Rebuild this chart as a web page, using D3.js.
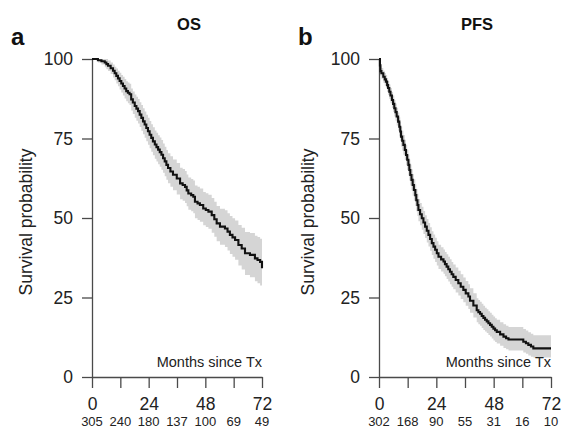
<!DOCTYPE html>
<html>
<head>
<meta charset="utf-8">
<script src="https://cdn.jsdelivr.net/npm/d3@7"></script>
<style>
  body { margin: 0; background: #fff; }
  text { font-family: "Liberation Sans", Arial, sans-serif; }
</style>
</head>
<body>
<div id="chart"></div>
<script>
// tick values and numbers at risk
const months = [0, 12, 24, 36, 48, 60, 72];
const monthLabels = [0, 24, 48, 72];
const survTicks = [0, 25, 50, 75, 100];
const osAtRisk = [305, 240, 180, 137, 100, 69, 49];
const pfsAtRisk = [302, 168, 90, 55, 31, 16, 10];

// OS curve and its band
const osTime  = [0, 2.5, 4.0, 5.4, 6.1, 6.8, 7.9, 8.9, 9.6, 10.3, 11.0, 11.7, 12.4, 13.1, 13.8, 14.5, 15.2, 15.9, 16.6, 17.3, 18.1, 18.8, 19.5, 20.2, 20.9, 21.6, 22.3, 23.0, 23.7, 24.4, 25.1, 25.8, 26.6, 27.3, 28.0, 28.7, 29.4, 30.1, 30.8, 31.5, 32.2, 33.2, 34.3, 35.9, 37.3, 38.4, 39.4, 40.1, 40.8, 42.0, 42.9, 43.6, 44.7, 45.7, 47.1, 48.2, 49.3, 50.7, 51.8, 52.8, 54.2, 56.3, 57.4, 58.4, 59.5, 60.6, 62.0, 63.4, 64.8, 66.9, 69.0, 70.1, 71.2, 72.0];
const osSurv  = [100, 99.6, 99.3, 98.9, 98.4, 97.9, 97.1, 96.3, 95.5, 94.7, 93.9, 93.1, 92.3, 91.5, 90.7, 89.9, 89.4, 88.9, 87.3, 86.3, 85.2, 84.4, 83.6, 82.5, 81.5, 80.4, 79.4, 78.3, 77.3, 76.2, 75.2, 74.1, 73.1, 72.3, 71.5, 70.7, 69.9, 68.8, 67.8, 66.7, 65.7, 64.6, 63.6, 62.4, 60.9, 60.4, 59.8, 58.7, 57.7, 57.2, 56.7, 55.1, 54.6, 54.1, 53.0, 52.5, 52.0, 50.9, 49.6, 48.3, 47.3, 46.7, 45.7, 44.7, 43.9, 43.1, 41.5, 40.4, 38.9, 38.4, 37.3, 36.8, 36.2, 34.2];
const osUpper = [100, 100, 100, 100, 100, 99.5, 98.9, 98.3, 97.6, 97.0, 96.3, 95.7, 95.0, 94.4, 93.7, 93.0, 92.6, 92.2, 90.7, 89.8, 88.8, 88.1, 87.4, 86.4, 85.5, 84.5, 83.5, 82.5, 81.5, 80.5, 79.5, 78.5, 77.5, 76.8, 76.0, 75.3, 74.5, 73.4, 72.4, 71.4, 70.4, 69.4, 68.4, 67.3, 65.8, 65.4, 64.8, 63.7, 62.7, 62.3, 61.8, 60.2, 59.8, 59.3, 58.2, 57.8, 57.3, 56.3, 55.1, 53.8, 52.9, 52.4, 51.5, 50.6, 49.9, 49.2, 47.8, 46.9, 45.6, 45.3, 44.4, 44.0, 43.5, 41.5];
const osLower = [100, 98.9, 98.3, 97.4, 96.8, 96.2, 95.3, 94.2, 93.3, 92.3, 91.4, 90.4, 89.5, 88.5, 87.6, 86.7, 86.1, 85.5, 83.8, 82.7, 81.5, 80.6, 79.7, 78.6, 77.4, 76.3, 75.2, 74.1, 73.0, 71.9, 70.8, 69.7, 68.6, 67.8, 66.9, 66.1, 65.2, 64.2, 63.1, 62.0, 60.9, 59.8, 58.7, 57.4, 55.9, 55.4, 54.7, 53.7, 52.6, 52.1, 51.5, 49.9, 49.4, 48.8, 47.7, 47.2, 46.6, 45.4, 44.1, 42.7, 41.6, 40.9, 39.8, 38.7, 37.8, 36.9, 35.1, 33.8, 32.1, 31.4, 30.1, 29.5, 28.8, 27.2];

// PFS curve and its band
const pfsTime  = [0, 0.4, 0.6, 1.0, 1.8, 2.4, 2.9, 3.4, 3.8, 4.3, 4.8, 5.4, 5.9, 6.4, 6.9, 7.4, 8.0, 8.5, 8.9, 9.2, 9.7, 10.2, 10.8, 11.3, 11.8, 12.3, 12.7, 13.1, 13.6, 14.1, 14.6, 15.2, 15.6, 16.1, 16.5, 17.2, 17.9, 18.6, 19.3, 20.0, 20.7, 21.4, 22.1, 22.8, 23.5, 24.2, 24.9, 26.0, 27.0, 27.6, 28.3, 29.0, 29.7, 30.4, 31.1, 32.1, 33.2, 34.2, 35.3, 36.3, 37.4, 38.1, 39.5, 40.9, 41.6, 42.3, 43.0, 43.7, 44.4, 45.1, 45.8, 46.5, 47.2, 47.9, 48.6, 49.3, 50.7, 52.1, 53.2, 54.2, 60.4, 61.5, 62.5, 63.6, 64.6, 72.0];
const pfsSurv  = [100, 98.0, 96.2, 95.5, 94.4, 93.6, 92.9, 91.8, 90.9, 89.7, 88.5, 87.1, 85.9, 84.5, 83.3, 81.9, 80.3, 78.7, 77.2, 75.6, 74.3, 73.0, 71.4, 69.8, 68.3, 66.7, 65.1, 63.5, 62.0, 60.4, 58.8, 57.2, 55.6, 54.1, 52.5, 51.2, 49.9, 48.6, 47.3, 46.0, 44.7, 43.4, 42.1, 41.0, 40.0, 38.9, 37.8, 37.0, 36.3, 35.5, 34.7, 33.9, 33.1, 32.3, 31.5, 30.5, 29.5, 28.4, 27.4, 26.3, 25.3, 24.0, 22.5, 21.0, 20.4, 19.9, 19.2, 18.6, 18.0, 17.5, 16.9, 16.4, 15.8, 15.2, 14.7, 14.2, 13.4, 12.7, 12.2, 11.8, 11.1, 10.6, 10.1, 9.6, 9.0, 9.0];
const pfsUpper = [100, 99.0, 97.7, 97.2, 96.3, 95.6, 95.0, 94.0, 93.1, 92.0, 90.9, 89.6, 88.5, 87.1, 86.0, 84.7, 83.2, 81.7, 80.2, 78.7, 77.4, 76.1, 74.6, 73.0, 71.5, 70.0, 68.4, 66.8, 65.3, 63.8, 62.2, 60.6, 59.1, 57.6, 56.0, 54.7, 53.5, 52.2, 50.9, 49.7, 48.4, 47.1, 45.8, 44.8, 43.8, 42.7, 41.6, 40.8, 40.1, 39.3, 38.6, 37.8, 37.0, 36.2, 35.4, 34.4, 33.4, 32.3, 31.3, 30.2, 29.2, 27.9, 26.3, 24.8, 24.2, 23.7, 23.0, 22.4, 21.8, 21.3, 20.7, 20.2, 19.6, 19.0, 18.5, 18.0, 17.2, 16.6, 16.1, 15.7, 15.1, 14.6, 14.1, 13.6, 13.1, 13.1];
const pfsLower = [100, 97.0, 94.7, 93.8, 92.5, 91.6, 90.8, 89.6, 88.7, 87.4, 86.1, 84.6, 83.3, 81.9, 80.6, 79.1, 77.4, 75.7, 74.2, 72.5, 71.2, 69.9, 68.2, 66.6, 65.1, 63.4, 61.8, 60.2, 58.7, 57.0, 55.4, 53.8, 52.1, 50.6, 49.0, 47.7, 46.3, 45.0, 43.7, 42.3, 41.0, 39.7, 38.4, 37.2, 36.2, 35.1, 34.0, 33.2, 32.5, 31.7, 30.8, 30.0, 29.2, 28.4, 27.6, 26.6, 25.6, 24.5, 23.5, 22.4, 21.4, 20.2, 18.7, 17.2, 16.6, 16.1, 15.4, 14.8, 14.3, 13.8, 13.2, 12.7, 12.1, 11.5, 11.0, 10.5, 9.8, 9.1, 8.7, 8.3, 7.7, 7.3, 6.8, 6.4, 6.1, 6.1];

const W = 561, H = 438;
const svg = d3.select("#chart").append("svg")
    .attr("width", W)
    .attr("height", H);

const y = d3.scaleLinear().domain([0, 100]).range([377, 59]);

const panels = [
  {letter: "a", title: "OS", left: 92, right: 262, letterX: 11, labelX: 32,
   time: osTime, surv: osSurv, lo: osLower, hi: osUpper, risk: osAtRisk},
  {letter: "b", title: "PFS", left: 379, right: 551, letterX: 298, labelX: 314,
   time: pfsTime, surv: pfsSurv, lo: pfsLower, hi: pfsUpper, risk: pfsAtRisk}
];

panels.forEach(p => {
  const x = d3.scaleLinear().domain([0, 72]).range([p.left, p.right]);
  const g = svg.append("g");
  const pts = p.time.map((t, i) => ({t, s: p.surv[i], lo: p.lo[i], hi: p.hi[i]}));

  // confidence band
  g.append("path")
      .datum(pts)
      .attr("fill", "#d5d5d5")
      .attr("d", d3.area()
        .curve(d3.curveStepAfter)
        .x(d => x(d.t))
        .y0(d => y(d.lo))
        .y1(d => y(d.hi)));

  // axes
  const yAxis = g.append("g")
      .attr("transform", `translate(${p.left},0)`)
      .call(d3.axisLeft(y).tickValues(survTicks).tickSize(10).tickSizeOuter(0).tickPadding(9));
  const xAxis = g.append("g")
      .attr("transform", `translate(0,${y(0)})`)
      .call(d3.axisBottom(x).tickValues(months).tickSize(11).tickSizeOuter(0).tickPadding(10)
        .tickFormat(d => monthLabels.includes(d) ? d : ""));
  [yAxis, xAxis].forEach(a => {
    a.selectAll("path, line").attr("stroke", "#4a4a4a").attr("stroke-width", 1.3);
    a.selectAll("text").attr("fill", "#222").attr("font-size", "17.5px")
      .attr("font-family", "Liberation Sans, Arial, sans-serif");
  });

  // survival curve
  g.append("path")
      .datum(pts)
      .attr("fill", "none")
      .attr("stroke", "#111")
      .attr("stroke-width", 2.1)
      .attr("d", d3.line()
        .curve(d3.curveStepAfter)
        .x(d => x(d.t))
        .y(d => y(d.s)));

  // numbers at risk
  g.selectAll(".risk")
    .data(months)
    .join("text")
      .attr("class", "risk")
      .attr("x", d => x(d))
      .attr("y", 426)
      .attr("text-anchor", "middle")
      .attr("font-size", "13px")
      .attr("fill", "#222")
      .text((d, i) => p.risk[i]);

  g.append("text")
      .attr("x", p.right)
      .attr("y", 367)
      .attr("text-anchor", "end")
      .attr("font-size", "14.5px")
      .attr("fill", "#222")
      .text("Months since Tx");

  g.append("text")
      .attr("transform", `translate(${p.labelX},222) rotate(-90)`)
      .attr("text-anchor", "middle")
      .attr("font-size", "17.5px")
      .attr("fill", "#222")
      .text("Survival probability");

  g.append("text")
      .attr("x", p.letterX)
      .attr("y", 45)
      .attr("font-size", "24px")
      .attr("font-weight", "bold")
      .attr("fill", "#111")
      .text(p.letter);

  g.append("text")
      .attr("x", (p.left + p.right) / 2 + 12)
      .attr("y", 30)
      .attr("text-anchor", "middle")
      .attr("font-size", "16.5px")
      .attr("font-weight", "bold")
      .attr("fill", "#111")
      .text(p.title);
});
</script>
</body>
</html>
